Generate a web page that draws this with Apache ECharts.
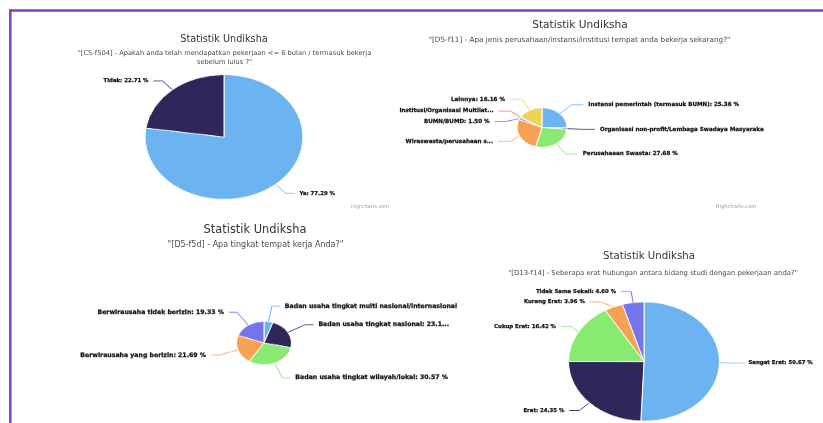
<!DOCTYPE html>
<html>
<head>
<meta charset="utf-8">
<title>Statistik Undiksha</title>
<script src="https://cdn.jsdelivr.net/npm/echarts/dist/echarts.min.js"></script>
<style>
html, body { margin: 0; padding: 0; background: #fff; }
#wrap { position: relative; width: 823px; height: 423px; overflow: hidden; background: #fff; }
#pies { position: absolute; left: 0; top: 0; width: 823px; transform-origin: 0 0; }
#texts { position: absolute; left: 0; top: 0; width: 823px; height: 423px; }
</style>
</head>
<body>
<div id="wrap">
	<div id="pies"></div>
	<div id="texts"></div>
</div>
<script>
// pies are tilted (flattened) in the screenshot
var K = 0.79;
var FONT = '"DejaVu Sans", sans-serif';

var blue = '#6cb3f2', navy = '#2d2859', green = '#88ea70', orange = '#f7a155',
	purple = '#7475ec', pink = '#ee5a80', yellow = '#eed452';

// [C5-f504]
var c1Names = [ 'Ya', 'Tidak' ];
var c1Values = [ 77.29, 22.71 ];
var c1Colors = [ blue, navy ];

// [D5-f11]
var c2Names = [ 'Instansi pemerintah (termasuk BUMN)', 'Organisasi non-profit/Lembaga Swadaya Masyarakat',
	'Perusahaaan Swasta', 'Wiraswasta/perusahaan sendiri', 'BUMN/BUMD',
	'Institusi/Organisasi Multilateral', 'Lainnya' ];
var c2Values = [ 25.36, 0.97, 27.68, 27.63, 1.50, 0.70, 16.16 ];
var c2Labels = [ null, 'Organisasi non-profit/Lembaga Swadaya Masyaraka', null,
	'Wiraswasta/perusahaan s...', null, 'Institusi/Organisasi Multilat...', null ];
var c2Colors = [ blue, navy, green, orange, purple, pink, yellow ];

// [D5-f5d]
var c3Names = [ 'Badan usaha tingkat multi nasional/internasional', 'Badan usaha tingkat nasional',
	'Badan usaha tingkat wilayah/lokal', 'Berwirausaha yang berizin', 'Berwirausaha tidak berizin' ];
var c3Values = [ 5.28, 23.13, 30.57, 21.69, 19.33 ];
var c3Labels = [ 'Badan usaha tingkat multi nasional/internasional', 'Badan usaha tingkat nasional: 23.1...',
	null, null, null ];
var c3Colors = [ blue, navy, green, orange, purple ];

// [D13-f14]
var c4Names = [ 'Sangat Erat', 'Erat', 'Cukup Erat', 'Kurang Erat', 'Tidak Sama Sekali' ];
var c4Values = [ 50.67, 24.35, 16.42, 3.96, 4.60 ];
var c4Colors = [ blue, navy, green, orange, purple ];

var titles = [
	{ x : 224, y : 39, size : 9.7, sub : [ '"[C5-f504] - Apakah anda telah mendapatkan pekerjaan <= 6 bulan / termasuk bekerja', 'sebelum lulus ?"' ], sx : 224.5, sy : 53, ss : 6.7 },
	{ x : 580, y : 25, size : 10.6, sub : [ '"[D5-f11] - Apa jenis perusahaan/instansi/institusi tempat anda bekerja sekarang?"' ], sx : 579.5, sy : 40, ss : 7.25 },
	{ x : 255, y : 230, size : 11.4, sub : [ '"[D5-f5d] - Apa tingkat tempat kerja Anda?"' ], sx : 255.5, sy : 245, ss : 8.0 },
	{ x : 649, y : 256, size : 10.2, sub : [ '"[D13-f14] - Seberapa erat hubungan antara bidang studi dengan pekerjaan anda?"' ], sx : 653, sy : 273, ss : 6.9 }
];

var labelSizes = [ 5.4, 5.6, 6.2, 5.4 ];
var captured = {};

function capture(p) {
	captured[p.seriesIndex + '_' + p.dataIndex] = {
		s : p.seriesIndex, x : p.labelRect.x, y : p.labelRect.y, h : p.labelRect.height, text : p.text
	};
	return {};
}

function pieSeries(names, values, labels, colors, cx, cy, r, len, len2, fs) {
	return {
		type : 'pie',
		center : [ cx, cy / K ],
		radius : r,
		startAngle : 90,
		clockwise : true,
		animation : false,
		silent : true,
		avoidLabelOverlap : true,
		data : names.map(function(n, i) {
			return { name : n, value : values[i], itemStyle : { color : colors[i] } };
		}),
		itemStyle : { borderColor : '#fff', borderWidth : 1 },
		label : {
			show : true,
			color : 'rgba(0,0,0,0)',
			fontFamily : FONT,
			fontWeight : 'bold',
			fontSize : fs,
			lineHeight : 11,
			formatter : function(p) {
				if (labels && labels[p.dataIndex]) return labels[p.dataIndex];
				return p.name + ': ' + p.value.toFixed(2) + ' %';
			}
		},
		labelLine : { show : true, length : len, length2 : len2, smooth : false, lineStyle : { width : 1 } },
		labelLayout : capture
	};
}

function showPies() {
	var el = document.getElementById('pies');
	el.style.height = (423 / K) + 'px';
	el.style.transform = 'scaleY(' + K + ')';
	var chart = echarts.init(el, null, { renderer : 'canvas' });
	chart.setOption({
		backgroundColor : 'transparent',
		animation : false,
		series : [
			pieSeries(c1Names, c1Values, null, c1Colors, 224, 137, 79, 15, 9, labelSizes[0]),
			pieSeries(c2Names, c2Values, c2Labels, c2Colors, 542, 127.5, 25, 16, 12, labelSizes[1]),
			pieSeries(c3Names, c3Values, c3Labels, c3Colors, 264, 343, 27.5, 20, 8, labelSizes[2]),
			pieSeries(c4Names, c4Values, null, c4Colors, 644, 361.5, 75.5, 14, 10, labelSizes[3])
		]
	});
}

function txt(x, y, text, font, fill, align, stroke) {
	var style = { text : text, font : font, fill : fill, align : align, verticalAlign : 'middle',
		textAlign : align, textVerticalAlign : 'middle' };
	if (stroke) {
		style.stroke = fill;
		style.lineWidth = stroke;
	}
	return { type : 'text', x : x, y : y, silent : true, style : style };
}

function showTexts() {
	var chart = echarts.init(document.getElementById('texts'));
	var g = [];
	// purple frame
	g.push({ type : 'line', silent : true, shape : { x1 : 10.3, y1 : 10.5, x2 : 823, y2 : 10.5 }, style : { stroke : '#7d3fc3', lineWidth : 2.5 } });
	g.push({ type : 'line', silent : true, shape : { x1 : 10.3, y1 : 9.3, x2 : 10.3, y2 : 423 }, style : { stroke : '#7d3fc3', lineWidth : 2.5 } });

	titles.forEach(function(t) {
		g.push(txt(t.x, t.y, 'Statistik Undiksha', t.size + 'px ' + FONT, '#333', 'center'));
		t.sub.forEach(function(line, i) {
			g.push(txt(t.sx, t.sy + i * 9, line, t.ss + 'px ' + FONT, '#4a4a4a', 'center'));
		});
	});
	g.push(txt(370, 207, 'Highcharts.com', '4.8px ' + FONT, '#999', 'center'));
	g.push(txt(736, 207, 'Highcharts.com', '5.2px ' + FONT, '#999', 'center'));

	Object.keys(captured).forEach(function(key) {
		var c = captured[key];
		g.push(txt(c.x, (c.y + c.h / 2) * K, c.text, 'bold ' + labelSizes[c.s] + 'px ' + FONT, '#111', 'left', 0.25));
	});

	chart.setOption({ backgroundColor : 'transparent', animation : false, graphic : g });
}

showPies();
showTexts();
</script>
</body>
</html>
